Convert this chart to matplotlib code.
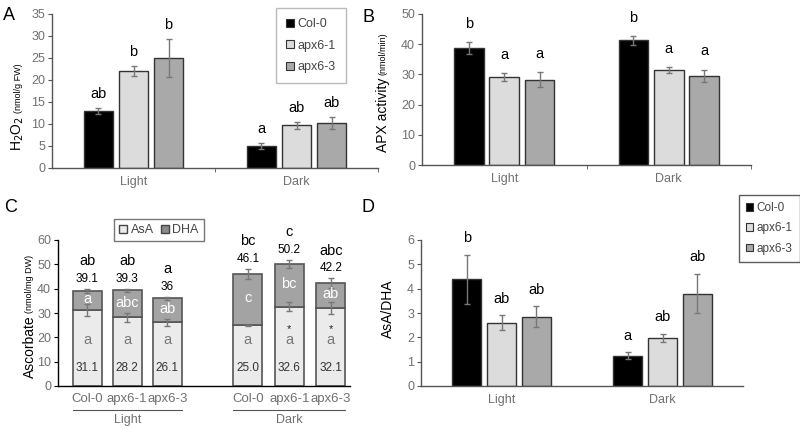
import numpy as np
import matplotlib
matplotlib.use('Agg')
import matplotlib.pyplot as plt
import matplotlib.transforms as mtransforms
from matplotlib.patches import Patch

plt.rcParams['font.family'] = ['Liberation Sans', 'DejaVu Sans']

#data
genotypes = ['Col-0', 'apx6-1', 'apx6-3']
conditions = ['Light', 'Dark']

h2o2 = [[12.9, 22.0, 25.0], [5.0, 9.7, 10.3]]
h2o2_err = [[0.7, 1.1, 4.3], [0.7, 0.8, 1.4]]
h2o2_let = [['ab', 'b', 'b'], ['a', 'ab', 'ab']]

apx = [[38.7, 29.0, 28.3], [41.3, 31.3, 29.6]]
apx_err = [[2.0, 1.3, 2.4], [1.4, 1.0, 2.0]]
apx_let = [['b', 'a', 'a'], ['b', 'a', 'a']]

asa = [31.1, 28.2, 26.1, 25.0, 32.6, 32.1]
asa_err = [2.5, 2.0, 1.3, 0.2, 1.8, 2.5]
total = [39.1, 39.3, 36.0, 46.1, 50.2, 42.2]
total_err = [0.7, 0.7, 0.7, 2.0, 1.7, 2.0]
total_lab = ['39.1', '39.3', '36', '46.1', '50.2', '42.2']
asa_lab = ['31.1', '28.2', '26.1', '25.0', '32.6', '32.1']
total_let = ['ab', 'ab', 'a', 'bc', 'c', 'abc']
dha_let = ['a', 'abc', 'ab', 'c', 'bc', 'ab']
asa_let = ['a', 'a', 'a', 'a', 'a', 'a']
asa_star = [False, False, False, False, True, True]

ratio = [[4.38, 2.6, 2.85], [1.25, 1.97, 3.8]]
ratio_err = [[1.0, 0.3, 0.42], [0.13, 0.17, 0.8]]
ratio_let = [['b', 'ab', 'ab'], ['a', 'ab', 'ab']]

#style
colors = ['#000000', '#dcdcdc', '#a9a9a9']
edge = '#333333'
errc = '#777777'
tickc = '#707070'
W, H = 800, 429

fig = plt.figure(figsize=(8, 4.29), dpi=100)

def box(l, r, t, b):
    return fig.add_axes([l / W, 1 - b / H, (r - l) / W, (b - t) / H])

def style(ax, spine='#555555'):
    for s in ['top', 'right']:
        ax.spines[s].set_visible(False)
    for s in ['left', 'bottom']:
        ax.spines[s].set_color(spine)
        ax.spines[s].set_linewidth(1)
    ax.tick_params(axis='y', direction='out', length=3, color=spine, labelcolor=tickc, labelsize=9, pad=2)
    ax.tick_params(axis='x', length=0, labelcolor=tickc, labelsize=9, pad=6)

def ylab(ax, x, y, main, unit=None):
    t = ax.text(x, y, main, transform=ax.transAxes, rotation=90, ha='center', va='bottom', fontsize=10)
    if unit:
        ax.annotate(unit, xy=(0.5, 1), xycoords=t, rotation=90, ha='center', va='bottom',
                    fontsize=6.5, xytext=(0, 2), textcoords='offset points')

def grouped(ax, vals, errs, lets, ymax, off_pt):
    centers = np.array([0.5, 1.5])
    for i in range(3):
        xs = centers + (i - 1) * 0.215
        v = [vals[0][i], vals[1][i]]
        e = [errs[0][i], errs[1][i]]
        ax.bar(xs, v, 0.18, color=colors[i], edgecolor=edge, linewidth=1, label=genotypes[i], zorder=2)
        ax.errorbar(xs, v, yerr=e, fmt='none', ecolor=errc, elinewidth=1, capsize=2.5, capthick=1, zorder=3)
        for j in range(2):
            ax.annotate(lets[j][i], (xs[j], v[j] + e[j]), xytext=(0, off_pt), textcoords='offset points',
                        ha='center', va='bottom', fontsize=10.5)
    ax.set_xlim(0, 2)
    ax.set_ylim(0, ymax)
    ax.set_xticks(centers)
    ax.set_xticklabels(conditions)
    ax.set_xticks([1, 2], minor=True)
    ax.tick_params(axis='x', which='minor', length=3, direction='out', color='#555555')

#A
axA = box(52, 378, 14, 168)
style(axA)
grouped(axA, h2o2, h2o2_err, h2o2_let, 35, 5)
axA.set_yticks(range(0, 36, 5))
ylab(axA, -0.104, 0.11, 'H$_2$O$_2$', '(nmol/g FW)')
handles = [Patch(facecolor=c, edgecolor=edge, linewidth=0.8) for c in colors]
fig.legend(handles, genotypes, loc='upper left', bbox_to_anchor=(270 / W, 1 - 2 / H), fontsize=9,
           frameon=True, fancybox=False, edgecolor='#aaaaaa', handlelength=0.6, handleheight=0.6,
           handletextpad=0.3, labelspacing=0.75, borderpad=0.8, labelcolor='#444444')

#B
axB = box(422, 751, 14, 165)
style(axB)
grouped(axB, apx, apx_err, apx_let, 50, 8)
axB.set_yticks(range(0, 51, 10))
ylab(axB, -0.119, 0.086, 'APX activity', '(nmol/min)')

#C
axC = box(58, 350, 240, 386)
style(axC, spine='#000000')
pos = np.array([1.0, 2.37, 3.74, 6.5, 7.92, 9.34])
dha = np.array(total) - np.array(asa)
axC.bar(pos, asa, 0.98, color='#ebebeb', edgecolor='#555555', linewidth=1.2, zorder=2)
axC.bar(pos, dha, 0.98, bottom=asa, color='#a3a3a3', edgecolor='#555555', linewidth=1.2, zorder=2)
axC.errorbar(pos, asa, yerr=asa_err, fmt='none', ecolor=errc, elinewidth=1, capsize=2.5, zorder=3)
axC.errorbar(pos, total, yerr=total_err, fmt='none', ecolor=errc, elinewidth=1, capsize=2.5, zorder=3)
for k in range(6):
    top = total[k] + total_err[k]
    axC.annotate(total_lab[k], (pos[k], top), xytext=(0, 3), textcoords='offset points',
                 ha='center', va='bottom', fontsize=8.5)
    axC.annotate(total_let[k], (pos[k], top), xytext=(0, 15), textcoords='offset points',
                 ha='center', va='bottom', fontsize=10.5, annotation_clip=False)
    axC.text(pos[k], asa[k] + dha[k] / 2 + 0.5, dha_let[k], ha='center', va='center', color='white', fontsize=10.5)
    axC.text(pos[k], 19, asa_let[k], ha='center', va='center', color='#777777', fontsize=10.5)
    if asa_star[k]:
        axC.text(pos[k], 23.5, '*', ha='center', va='center', color='#222222', fontsize=8)
    axC.text(pos[k], 7.5, asa_lab[k], ha='center', va='center', color='#333333', fontsize=8.5)
axC.set_xlim(0, 10)
axC.set_ylim(0, 60)
axC.set_yticks(range(0, 61, 10))
axC.set_xticks(pos)
axC.set_xticklabels(genotypes * 2)
axC.tick_params(axis='x', pad=5, labelsize=9.5)
trans = mtransforms.blended_transform_factory(axC.transData, axC.transAxes)
for g in range(2):
    x0 = pos[3 * g] - 0.49
    x1 = pos[3 * g + 2] + 0.49
    axC.plot([x0, x1], [-0.164, -0.164], color='#555555', lw=0.8, transform=trans, clip_on=False)
    axC.text((x0 + x1) / 2, -0.235, conditions[g], transform=trans, ha='center', va='center',
             fontsize=9, color=tickc)
ylab(axC, -0.096, 0.055, 'Ascorbate', '(nmol/mg DW)')
fig.legend([Patch(facecolor='#ebebeb', edgecolor='#444444'), Patch(facecolor='#8a8a8a', edgecolor='#444444')],
           ['AsA', 'DHA'], loc='upper left', bbox_to_anchor=(108 / W, 1 - 213 / H), ncol=2, fontsize=9,
           frameon=True, fancybox=False, edgecolor='#555555', handlelength=0.6, handleheight=0.6,
           handletextpad=0.3, columnspacing=0.6, borderpad=0.4, labelcolor='#444444')

#D
axD = box(421, 743, 240, 386)
style(axD)
grouped(axD, ratio, ratio_err, ratio_let, 6, 7)
axD.tick_params(axis='x', which='minor', length=0)
axD.set_yticks(range(0, 7))
ylab(axD, -0.102, 0.33, 'AsA/DHA')
fig.legend(handles, genotypes, loc='upper left', bbox_to_anchor=(733 / W, 1 - 189 / H), fontsize=8.5,
           frameon=True, fancybox=False, edgecolor='#333333', handlelength=0.6, handleheight=0.6,
           handletextpad=0.3, labelspacing=0.7, borderpad=0.6, labelcolor='#444444')

#panel letters
for lab, px, py in [('A', 9, 15), ('B', 368, 17), ('C', 11, 208), ('D', 368, 208)]:
    fig.text(px / W, 1 - py / H, lab, ha='center', va='center', fontsize=13)

fig.savefig('out.png', dpi=100)
